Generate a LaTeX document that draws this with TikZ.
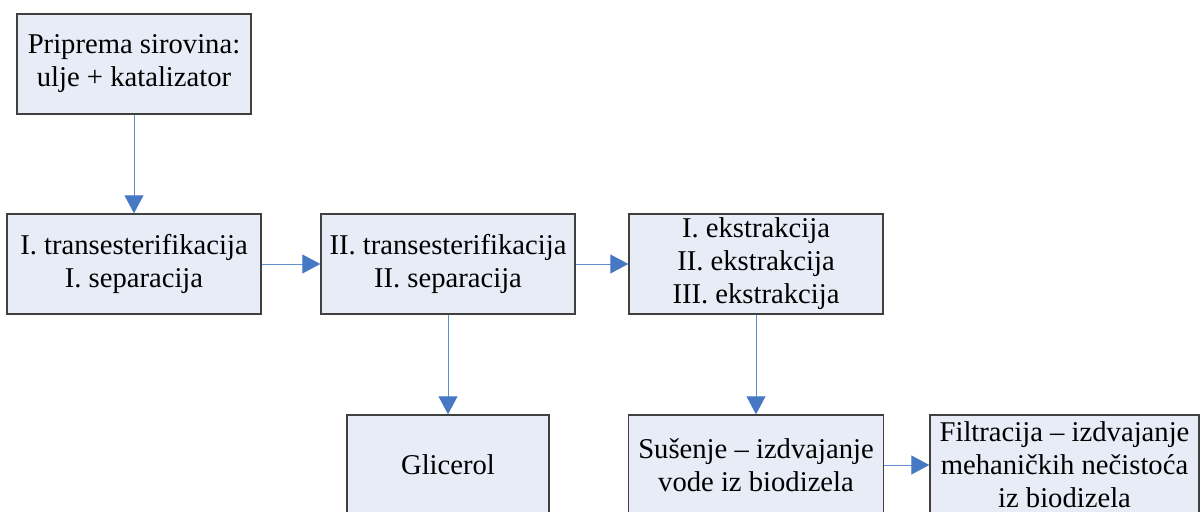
\documentclass[tikz,border=0pt]{standalone}
\usepackage{fontspec}
\setmainfont{Liberation Serif}
\newfontfamily\boxfont{Liberation Serif}
\usepackage{tikz}
\usetikzlibrary{arrows.meta}

\definecolor{boxfill}{RGB}{231,236,247}
\definecolor{boxline}{RGB}{64,64,64}
\definecolor{flowline}{RGB}{98,142,208}
\definecolor{tipblue}{RGB}{70,120,196}

\tikzset{
  procbox/.style={rectangle,draw=boxline,fill=boxfill,line width=0.8pt,
    inner sep=0pt,align=center,minimum height=2cm,
    font=\boxfont\fontsize{16.3}{18.8}\selectfont},
  flow/.style={draw=flowline,line width=0.55pt,
    -{Triangle[width=0.38cm,length=0.36cm,color=tipblue]}}
}

\begin{document}
\begin{tikzpicture}
\useasboundingbox (0,0) rectangle (24.02,10.22);
\pgfmathsetmacro\rowa{8.94}
\pgfmathsetmacro\rowb{4.94}
\pgfmathsetmacro\rowc{0.92}

% boxes
\node[procbox,minimum width=4.68cm] (prep) at (2.68,\rowa) {Priprema sirovina:\\ulje + katalizator};
\node[procbox,minimum width=5.08cm] (trI) at (2.68,\rowb) {I. transesterifikacija\\I. separacija};
\node[procbox,minimum width=5.08cm] (trII) at (8.96,\rowb) {II. transesterifikacija\\II. separacija};
\node[procbox,minimum width=5.08cm] (ekst) at (15.12,\rowb) {I. ekstrakcija\\II. ekstrakcija\\III. ekstrakcija};
\node[procbox,minimum width=4.04cm] (glic) at (8.96,\rowc) {Glicerol};
\node[procbox,minimum width=5.1cm] (susenje) at (15.12,\rowc) {Sušenje – izdvajanje\\vode iz biodizela};
\node[procbox,minimum width=5.38cm] (filt) at (21.29,\rowc) {Filtracija – izdvajanje\\mehaničkih nečistoća\\iz biodizela};

% connectors
\draw[flow] (prep) -- (trI);
\draw[flow] (trI) -- (trII);
\draw[flow] (trII) -- (ekst);
\draw[flow] (trII) -- (glic);
\draw[flow] (ekst) -- (susenje);
\draw[flow] (susenje) -- (filt);
\end{tikzpicture}
\end{document}
